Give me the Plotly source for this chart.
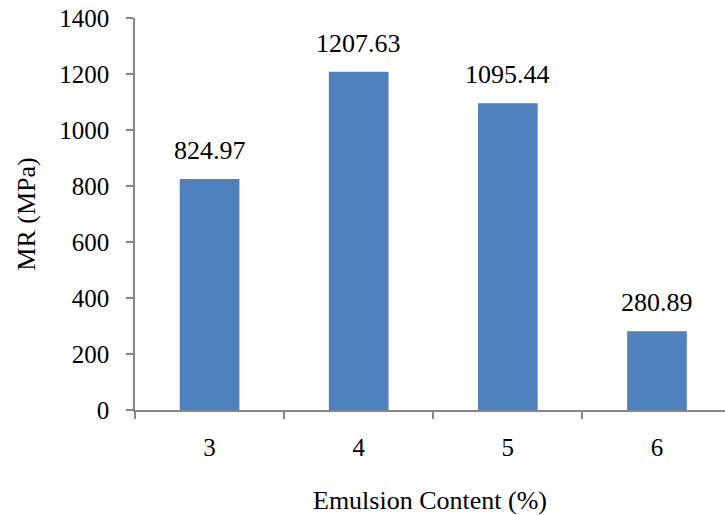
import plotly.graph_objects as go

categories = ["3", "4", "5", "6"]
mr_values = [824.97, 1207.63, 1095.44, 280.89]
label_texts = ["824.97", "1207.63", "1095.44", "280.89"]
y_ticks = [0, 200, 400, 600, 800, 1000, 1200, 1400]

FONT = "Liberation Serif"
AXIS_GRAY = "#868686"
BAR_BLUE = "#4F81BD"

fig = go.Figure()
fig.add_trace(go.Bar(
    x=categories, y=mr_values, width=0.4,
    marker=dict(color=BAR_BLUE, line=dict(width=0)),
    hoverinfo="skip",
))

for i, (v, t) in enumerate(zip(mr_values, label_texts)):
    fig.add_annotation(x=i, y=v, xref="x", yref="y", text=t, showarrow=False,
                       yanchor="bottom", yshift=12,
                       font=dict(family=FONT, size=26, color="black"))

fig.update_layout(
    width=725, height=515,
    margin=dict(l=135, r=0, t=18, b=105),
    paper_bgcolor="white", plot_bgcolor="white",
    showlegend=False,
    font=dict(family=FONT, size=25, color="black"),
)
fig.update_xaxes(
    type="category", range=[-0.5, 3.456], automargin=False,
    showline=True, linecolor=AXIS_GRAY, linewidth=1.5,
    ticks="outside", tickson="boundaries", ticklen=7, tickcolor=AXIS_GRAY, tickwidth=1.5,
    showgrid=False, zeroline=False,
    ticklabelstandoff=14, ticklabeloverflow="allow",
    tickfont=dict(family=FONT, size=25, color="black"),
    title=dict(text="Emulsion Content (%)", font=dict(family=FONT, size=26, color="black"), standoff=31),
)
fig.update_yaxes(
    range=[0, 1400], tickvals=y_ticks, automargin=False,
    showline=True, linecolor=AXIS_GRAY, linewidth=1.5,
    ticks="outside", ticklen=7, tickcolor=AXIS_GRAY, tickwidth=1.5,
    showgrid=False, zeroline=False,
    ticklabelstandoff=12, ticklabeloverflow="allow",
    tickfont=dict(family=FONT, size=25, color="black"),
    title=dict(text="MR (MPa)", font=dict(family=FONT, size=26, color="black"), standoff=16),
)

# remove the default 8px page margin so the figure sits at the window's top-left corner
fig.write_html("out.html", config={"displayModeBar": False},
               post_script="document.body.style.margin='0px';")
